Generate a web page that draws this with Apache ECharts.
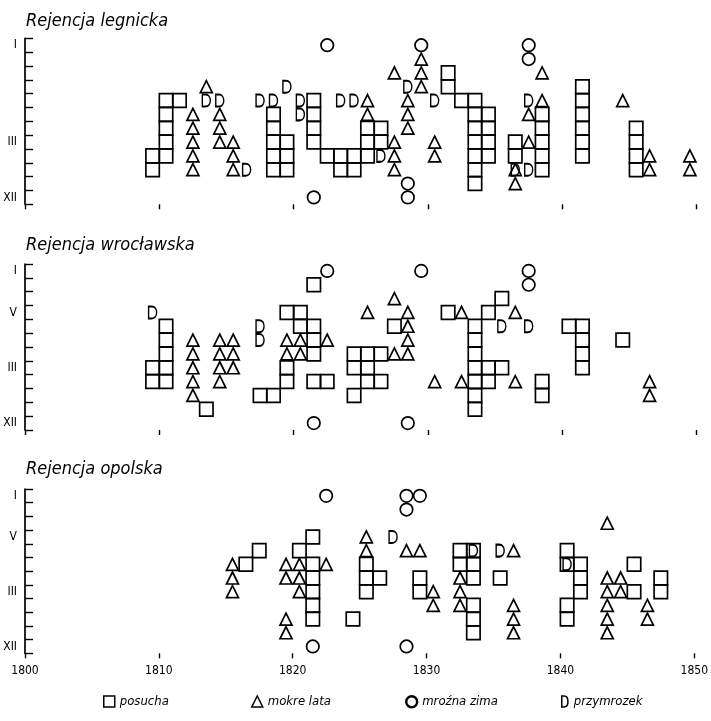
<!DOCTYPE html>
<html><head><meta charset="utf-8">
<script src="https://cdn.jsdelivr.net/npm/echarts@6/dist/echarts.min.js"></script>
<style>html,body{margin:0;padding:0;background:#fff}#c{width:711px;height:721px}</style>
</head><body><div id="c"></div>
<script>
// ---- data: [year, month-row (1 = top ... 12 = bottom)] ----
const panelTitles = ['Rejencja legnicka', 'Rejencja wrocławska', 'Rejencja opolska'];
const rowLabels1 = ['I','','','','','','','III','','','','XII'];
const rowLabels2 = ['I','','','V','','','','III','','','','XII'];
const rowLabels3 = ['I','','','V','','','','III','','','','XII'];
const yearTicks = [1800, 1810, 1820, 1830, 1840, 1850];
const legendNames = ['posucha', 'mokre lata', 'mroźna zima', 'przymrozek'];

// Rejencja legnicka
const legPosucha = [[1809,9],[1809,10],[1810,5],[1810,6],[1810,7],[1810,8],[1810,9],[1811,5],
  [1818,6],[1818,7],[1818,8],[1818,9],[1818,10],[1819,8],[1819,9],[1819,10],
  [1821,5],[1821,6],[1821,7],[1821,8],[1822,9],[1823,9],[1823,10],[1824,9],[1824,10],
  [1825,7],[1825,8],[1825,9],[1826,7],[1826,8],[1831,3],[1831,4],[1832,5],
  [1833,5],[1833,6],[1833,7],[1833,8],[1833,9],[1833,10],[1833,11],
  [1834,6],[1834,7],[1834,8],[1834,9],[1836,8],[1836,9],
  [1838,6],[1838,7],[1838,8],[1838,9],[1838,10],
  [1841,4],[1841,5],[1841,6],[1841,7],[1841,8],[1841,9],
  [1845,7],[1845,8],[1845,9],[1845,10]];
const legMokre = [[1812,6],[1812,7],[1812,8],[1812,9],[1812,10],[1813,4],[1814,6],[1814,7],[1814,8],
  [1815,8],[1815,9],[1815,10],[1825,5],[1825,6],[1827,3],[1827,8],[1827,9],[1827,10],
  [1828,5],[1828,6],[1828,7],[1829,2],[1829,3],[1829,4],[1830,8],[1830,9],
  [1836,10],[1836,11],[1837,6],[1837,8],[1838,3],[1838,5],[1844,5],[1846,9],[1846,10],[1849,9],[1849,10]];
const legMrozna = [[1821,12],[1822,1],[1828,11],[1828,12],[1829,1],[1837,1],[1837,2]];
const legPrzymrozek = [[1813,5],[1814,5],[1816,10],[1817,5],[1818,5],[1819,4],[1820,5],[1820,6],
  [1823,5],[1824,5],[1826,9],[1828,4],[1830,5],[1836,10],[1837,5],[1837,10]];

// Rejencja wrocławska
const wroPosucha = [[1809,8],[1809,9],[1810,5],[1810,6],[1810,7],[1810,8],[1810,9],[1813,11],
  [1817,10],[1818,10],[1819,4],[1819,8],[1819,9],[1820,4],[1820,5],
  [1821,2],[1821,5],[1821,6],[1821,7],[1821,9],[1822,9],
  [1824,7],[1824,8],[1824,10],[1825,7],[1825,8],[1825,9],[1826,7],[1826,9],[1827,5],
  [1831,4],[1833,5],[1833,6],[1833,7],[1833,8],[1833,9],[1833,10],[1833,11],
  [1834,4],[1834,8],[1834,9],[1835,3],[1835,8],[1838,9],[1838,10],
  [1840,5],[1841,5],[1841,6],[1841,7],[1841,8],[1844,6]];
const wroMokre = [[1812,6],[1812,7],[1812,8],[1812,9],[1812,10],[1814,6],[1814,7],[1814,8],[1814,9],
  [1815,6],[1815,7],[1815,8],[1819,6],[1819,7],[1820,6],[1820,7],[1822,6],[1825,4],
  [1827,3],[1827,7],[1828,4],[1828,5],[1828,6],[1828,7],[1830,9],[1832,4],[1832,9],
  [1836,4],[1836,9],[1846,9],[1846,10]];
const wroMrozna = [[1821,12],[1822,1],[1828,12],[1829,1],[1837,1],[1837,2]];
const wroPrzymrozek = [[1809,4],[1817,5],[1817,6],[1835,5],[1837,5]];

// Rejencja opolska
const opoPosucha = [[1816,6],[1817,5],[1820,5],[1821,4],[1821,6],[1821,7],[1821,8],[1821,9],[1821,10],
  [1824,10],[1825,6],[1825,7],[1825,8],[1826,7],[1829,7],[1829,8],[1832,5],[1832,6],
  [1833,5],[1833,6],[1833,7],[1833,9],[1833,10],[1833,11],[1835,7],
  [1840,5],[1840,6],[1840,9],[1840,10],[1841,6],[1841,7],[1841,8],[1845,6],[1845,8],[1847,7],[1847,8]];
const opoMokre = [[1815,6],[1815,7],[1815,8],[1819,6],[1819,7],[1819,10],[1819,11],[1820,6],[1820,7],[1820,8],
  [1822,6],[1825,4],[1825,5],[1828,5],[1829,5],[1830,8],[1830,9],[1832,7],[1832,8],[1832,9],
  [1836,5],[1836,9],[1836,10],[1836,11],[1843,3],[1843,7],[1843,8],[1843,9],[1843,10],[1843,11],
  [1844,7],[1844,8],[1846,9],[1846,10]];
const opoMrozna = [[1821,12],[1822,1],[1828,1],[1828,2],[1828,12],[1829,1]];
const opoPrzymrozek = [[1827,4],[1833,5],[1835,5],[1840,6]];

const panels = [
  {labels: rowLabels1, sets: [legPosucha, legMokre, legMrozna, legPrzymrozek]},
  {labels: rowLabels2, sets: [wroPosucha, wroMokre, wroMrozna, wroPrzymrozek]},
  {labels: rowLabels3, sets: [opoPosucha, opoMokre, opoMrozna, opoPrzymrozek]}
];

// ---- layout / style ----
const gridTops = [38.3, 264, 489];
const gridHeights = [166, 166, 164.3];
const titleTops = [7, 231, 455];
const D_PATH = 'path://M0,0 L3,0 C9.5,0 9.5,14 3,14 L0,14 Z';
const symbols = ['rect', 'triangle', 'circle', D_PATH];
const sizes = [[13.4, 13.8], [12, 12], [12.5, 12.5], [8, 12]];
const fontFam = "'Liberation Sans Narrow','DejaVu Sans Condensed','Liberation Sans',sans-serif";

function cells(arr) { return arr.map(([yr, row]) => [yr + 0.5, row - 1]); }

const grid = [], xAxis = [], yAxis = [], series = [], title = [];
panels.forEach((p, i) => {
  grid.push({left: 25, right: 14.4, top: gridTops[i], height: gridHeights[i]});
  title.push({text: panelTitles[i], left: 21, top: titleTops[i],
    textStyle: {fontStyle: 'italic', fontWeight: 'normal', fontSize: 18, color: '#000', fontFamily: fontFam}});
  xAxis.push({type: 'value', gridIndex: i, min: yearTicks[0], max: yearTicks[yearTicks.length - 1], interval: 10,
    axisLine: {lineStyle: {color: '#000', width: 1.7}},
    axisTick: {show: true, length: 5, lineStyle: {color: '#000', width: 1.4}},
    axisLabel: {show: i === 2, color: '#000', fontSize: 12, margin: 12, fontFamily: "'DejaVu Sans Condensed',sans-serif",
      formatter: v => yearTicks.includes(v) ? String(v) : ''},
    splitLine: {show: false}});
  yAxis.push({type: 'category', gridIndex: i, inverse: true, data: p.labels, boundaryGap: true,
    axisLine: {lineStyle: {color: '#000', width: 1.7}},
    axisTick: {show: true, inside: true, length: 8, interval: 0, lineStyle: {color: '#000', width: 1.4}},
    axisLabel: {interval: 0, color: '#000', fontSize: 12, margin: 8, fontFamily: "'DejaVu Sans Condensed',sans-serif"},
    splitLine: {show: false}});
  p.sets.forEach((arr, k) => {
    series.push({type: 'scatter', name: legendNames[k], xAxisIndex: i, yAxisIndex: i,
      symbol: symbols[k], symbolSize: sizes[k], silent: true,
      itemStyle: {color: 'rgba(255,255,255,0)', borderColor: '#000', borderWidth: 1.7, opacity: 1},
      emphasis: {disabled: true},
      data: cells(arr)});
  });
});

const legendLefts = [98, 246, 400, 556];
const legendIcons = ['rect', 'triangle', 'circle', D_PATH];
const legend = legendNames.map((n, k) => ({
  data: [{name: n, icon: legendIcons[k]}], left: legendLefts[k], top: 690, selectedMode: false,
  itemWidth: k === 3 ? 8 : 11, itemHeight: 11, itemGap: 4,
  itemStyle: {borderColor: '#000', borderWidth: k === 2 ? 2.4 : 1.5, color: 'rgba(255,255,255,0)'},
  textStyle: {fontStyle: 'italic', fontSize: 13, color: '#000', fontFamily: fontFam}
}));

const chart = echarts.init(document.getElementById('c'), null, {renderer: 'canvas'});
chart.setOption({animation: false, backgroundColor: '#fff', title, grid, xAxis, yAxis, series, legend});
</script></body></html>
